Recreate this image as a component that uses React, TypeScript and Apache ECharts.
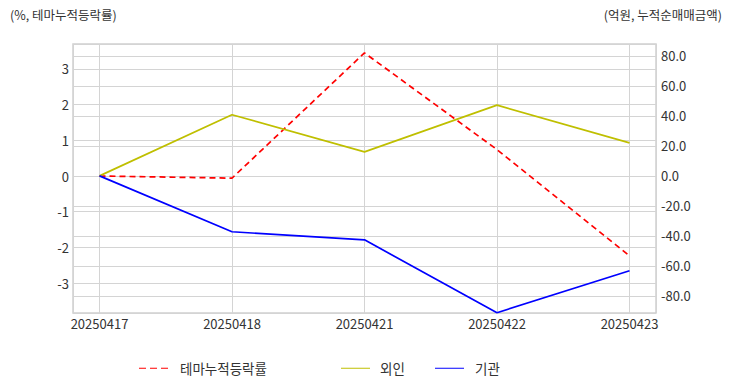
import React, { useEffect, useRef } from "react";
import * as echarts from "echarts";

const categories = ["20250417", "20250418", "20250421", "20250422", "20250423"];
const themeReturn = [0, -0.06, 3.45, 0.74, -2.24];
const foreign = [0, 40.8, 16.0, 47.2, 22.0];
const institution = [0, -37.3, -42.7, -91.3, -63.3];

const leftMin = -3.84;
const leftMax = 3.7;
const rightMin = -91.5;
const rightMax = 88;

const FONT = "'Noto Sans CJK KR', 'Noto Sans', sans-serif";
const GRID_COLOR = "#d4d4d4";
const TXT = "#333";

const DASH_ICON = "path://M0,0H7V1H0Z M11,0H18V1H11Z M22,0H29V1H22Z";
const SOLID_ICON = "path://M0,0H29V1H0Z";

export default function App() {
  const ref = useRef<HTMLDivElement>(null);
  useEffect(() => {
    if (!ref.current) return;
    const chart = echarts.init(ref.current, undefined, { renderer: "svg" });
    const toPairs = (arr: number[]) => arr.map((v, i) => [i, v]);
    const legendCommon = {
      bottom: 17,
      padding: 0,
      itemWidth: 29,
      itemHeight: 2,
    };
    chart.setOption({
      animation: false,
      textStyle: { fontFamily: FONT },
      grid: {
        left: 73,
        right: 76,
        top: 44,
        bottom: 79,
        show: true,
        borderColor: "#cfcfcf",
        borderWidth: 1.5,
        containLabel: false,
        outerBoundsMode: "none",
      },
      graphic: [
        {
          type: "text",
          left: 10,
          top: 8,
          style: { text: "(%, 테마누적등락률)", fontFamily: FONT, fontSize: 12.5, fill: TXT },
        },
        {
          type: "text",
          right: 10,
          top: 8,
          style: { text: "(억원, 누적순매매금액)", fontFamily: FONT, fontSize: 12.5, fill: TXT },
        },
      ],
      legend: [
        {
          ...legendCommon,
          left: 139,
          data: [{ name: "테마누적등락률", icon: DASH_ICON }],
          textStyle: { fontFamily: FONT, fontSize: 13.5, color: TXT, padding: [0, 0, 0, 7] },
        },
        {
          ...legendCommon,
          left: 341,
          data: [{ name: "외인", icon: SOLID_ICON }],
          textStyle: { fontFamily: FONT, fontSize: 13.5, color: TXT, padding: [0, 0, 0, 5] },
        },
        {
          ...legendCommon,
          left: 435,
          data: [{ name: "기관", icon: SOLID_ICON }],
          textStyle: { fontFamily: FONT, fontSize: 13.5, color: TXT, padding: [0, 0, 0, 6] },
        },
      ],
      xAxis: {
        type: "value",
        min: -0.2,
        max: 4.2,
        splitNumber: 5,
        axisLine: { show: false },
        axisTick: { show: false },
        splitLine: { show: true, lineStyle: { color: GRID_COLOR, width: 1 } },
        axisLabel: {
          showMinLabel: false,
          showMaxLabel: false,
          fontSize: 13,
          color: TXT,
          margin: 4,
          fontFamily: FONT,
          formatter: (v: number) => {
            const r = Math.round(v);
            return Math.abs(v - r) < 1e-6 && categories[r] ? categories[r] : "";
          },
        },
      },
      yAxis: [
        {
          type: "value",
          position: "left",
          min: leftMin,
          max: leftMax,
          splitNumber: 7,
          axisLine: { show: false },
          axisTick: { show: false },
          splitLine: { show: true, lineStyle: { color: GRID_COLOR, width: 1 } },
          axisLabel: {
            showMinLabel: false,
            showMaxLabel: false,
            fontSize: 13,
            color: TXT,
            margin: 4,
            fontFamily: FONT,
            formatter: (v: number) => (Math.abs(v - Math.round(v)) < 1e-6 ? String(Math.round(v)) : ""),
          },
        },
        {
          type: "value",
          position: "right",
          min: rightMin,
          max: rightMax,
          splitNumber: 9,
          axisLine: { show: false },
          axisTick: { show: false },
          splitLine: { show: true, lineStyle: { color: GRID_COLOR, width: 1 } },
          axisLabel: {
            showMinLabel: false,
            showMaxLabel: false,
            fontSize: 13,
            color: TXT,
            margin: 5,
            fontFamily: FONT,
            formatter: (v: number) => (Math.abs(v / 20 - Math.round(v / 20)) < 1e-6 ? v.toFixed(1) : ""),
          },
        },
      ],
      series: [
        {
          name: "테마누적등락률",
          type: "line",
          yAxisIndex: 0,
          data: toPairs(themeReturn),
          symbol: "none",
          lineStyle: { color: "#ff0000", width: 1.7, type: [6, 4] },
          itemStyle: { color: "#ff0000" },
        },
        {
          name: "외인",
          type: "line",
          yAxisIndex: 1,
          data: toPairs(foreign),
          symbol: "none",
          lineStyle: { color: "#bfbf00", width: 1.7 },
          itemStyle: { color: "#bfbf00" },
        },
        {
          name: "기관",
          type: "line",
          yAxisIndex: 1,
          data: toPairs(institution),
          symbol: "none",
          lineStyle: { color: "#0000ff", width: 1.7 },
          itemStyle: { color: "#0000ff" },
        },
      ],
    });
    return () => chart.dispose();
  }, []);
  return <div ref={ref} style={{ width: 732, height: 392, position: "absolute", left: 0, top: 0 }} />;
}
